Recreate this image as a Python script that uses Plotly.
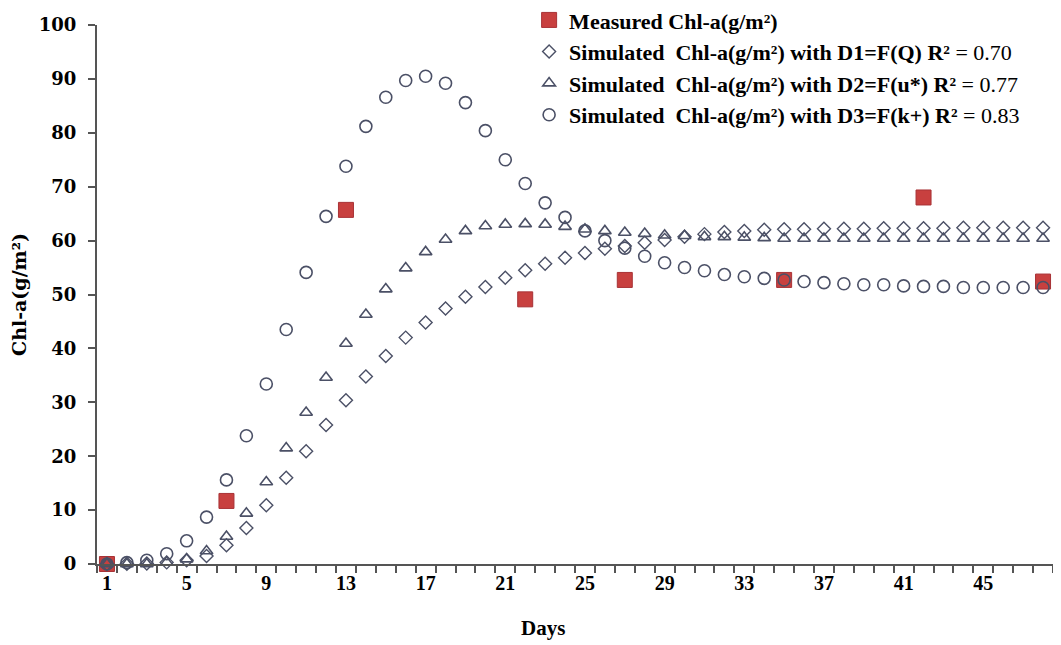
import plotly.graph_objects as go

days = list(range(1, 49))

measured_days = [1, 7, 13, 22, 27, 35, 42, 48]
measured = [0, 11.7, 65.7, 49.1, 52.7, 52.7, 68.0, 52.4]

sim_d1 = [0, 0.05, 0.1, 0.3, 0.7, 1.5, 3.5, 6.7, 10.9, 16.0,
          20.9, 25.8, 30.4, 34.8, 38.6, 42.0, 44.8, 47.4, 49.6, 51.4,
          53.1, 54.5, 55.7, 56.8, 57.7, 58.5, 59.0, 59.6, 60.1, 60.7,
          61.2, 61.6, 61.8, 62.0, 62.1, 62.1, 62.2, 62.2, 62.2, 62.3,
          62.3, 62.3, 62.3, 62.4, 62.4, 62.4, 62.4, 62.4]

sim_d2 = [0, 0, 0, 0.3, 0.9, 2.4, 5.1, 9.4, 15.2, 21.5,
          28.1, 34.6, 40.9, 46.3, 51.0, 54.9, 57.9, 60.2, 61.8, 62.7,
          63.0, 63.1, 63.0, 62.6, 62.1, 61.8, 61.5, 61.3, 61.0, 60.9,
          60.7, 60.7, 60.6, 60.5, 60.4, 60.4, 60.4, 60.4, 60.4, 60.4,
          60.4, 60.4, 60.4, 60.4, 60.4, 60.4, 60.4, 60.4]

sim_d3 = [0, 0.25, 0.7, 1.9, 4.3, 8.7, 15.6, 23.8, 33.4, 43.5,
          54.1, 64.5, 73.8, 81.2, 86.6, 89.7, 90.5, 89.2, 85.6, 80.4,
          75.0, 70.6, 67.0, 64.3, 61.8, 60.0, 58.6, 57.1, 55.9, 55.0,
          54.4, 53.7, 53.3, 53.0, 52.7, 52.4, 52.2, 52.0, 51.8, 51.8,
          51.6, 51.5, 51.5, 51.3, 51.3, 51.3, 51.3, 51.3]

x_tick_vals = [1, 5, 9, 13, 17, 21, 25, 29, 33, 37, 41, 45]
y_tick_vals = [0, 10, 20, 30, 40, 50, 60, 70, 80, 90, 100]

names = [
    "<b>Measured Chl-a(g/m²)</b>",
    "<b>Simulated  Chl-a(g/m²) with D1=F(Q) R²</b> = 0.70",
    "<b>Simulated  Chl-a(g/m²) with D2=F(u*) R²</b> = 0.77",
    "<b>Simulated  Chl-a(g/m²) with D3=F(k+) R²</b> = 0.83",
]

OUT = "#4b5066"
SERIF = "Liberation Serif"

fig = go.Figure()
fig.add_trace(go.Scatter(
    x=measured_days, y=measured, mode="markers", name=names[0],
    legendgroup="a", cliponaxis=False,
    marker=dict(symbol="square", size=15, color="#c8403f",
                line=dict(color="#a83236", width=1))))
fig.add_trace(go.Scatter(
    x=days, y=sim_d1, mode="markers", name=names[1],
    legendgroup="b", cliponaxis=False,
    marker=dict(symbol="diamond-open", size=10, color=OUT,
                line=dict(width=1.4))))
fig.add_trace(go.Scatter(
    x=days, y=sim_d2, mode="markers", name=names[2],
    legendgroup="c", cliponaxis=False,
    marker=dict(symbol="triangle-up-open", size=11, color=OUT,
                line=dict(width=1.6))))
fig.add_trace(go.Scatter(
    x=days, y=sim_d3, mode="markers", name=names[3],
    legendgroup="d", cliponaxis=False,
    marker=dict(symbol="circle-open", size=12, color=OUT,
                line=dict(width=1.6))))

fig.update_layout(
    width=1053, height=637,
    margin=dict(l=89, r=8, t=17, b=81, autoexpand=False),
    paper_bgcolor="white", plot_bgcolor="white",
    font=dict(family=SERIF, color="black"),
    showlegend=True,
    legend=dict(
        x=0.452, y=1.048, xanchor="left", yanchor="top",
        traceorder="grouped", tracegroupgap=0,
        font=dict(family=SERIF, size=22, color="black"),
        bgcolor="rgba(255,255,255,0)",
        itemsizing="trace",
    ),
    xaxis=dict(
        range=[0.5, 48.5], tickmode="array", tickvals=x_tick_vals,
        ticktext=[str(v) for v in x_tick_vals],
        ticks="", showgrid=False, zeroline=False,
        showline=True, linecolor="#555555", linewidth=2,
        tickfont=dict(family=SERIF, size=20, color="black", weight="bold"),
        minor=dict(ticks="outside", tick0=0.5, dtick=1, ticklen=7,
                   tickcolor="#555555", tickwidth=1.5, showgrid=False),
        automargin=False,
    ),
    yaxis=dict(
        range=[0, 100], tickmode="array", tickvals=y_tick_vals,
        ticks="outside", ticklen=7, tickcolor="#555555", tickwidth=1.5,
        ticklabelstandoff=8,
        showgrid=False, zeroline=False,
        showline=True, linecolor="#555555", linewidth=2,
        tickfont=dict(family="DejaVu Serif", size=18, color="black", weight="bold"),
        title=dict(text="<b>Chl-a(g/m²)</b>", font=dict(family="DejaVu Serif", size=19),
                   standoff=10),
        automargin=False,
    ),
    annotations=[dict(
        text="<b>Days</b>", x=0.467, y=-0.119, xref="paper", yref="paper",
        xanchor="center", yanchor="middle", showarrow=False,
        font=dict(family=SERIF, size=21, color="black"),
    )],
)

fig.write_html("out.html")
